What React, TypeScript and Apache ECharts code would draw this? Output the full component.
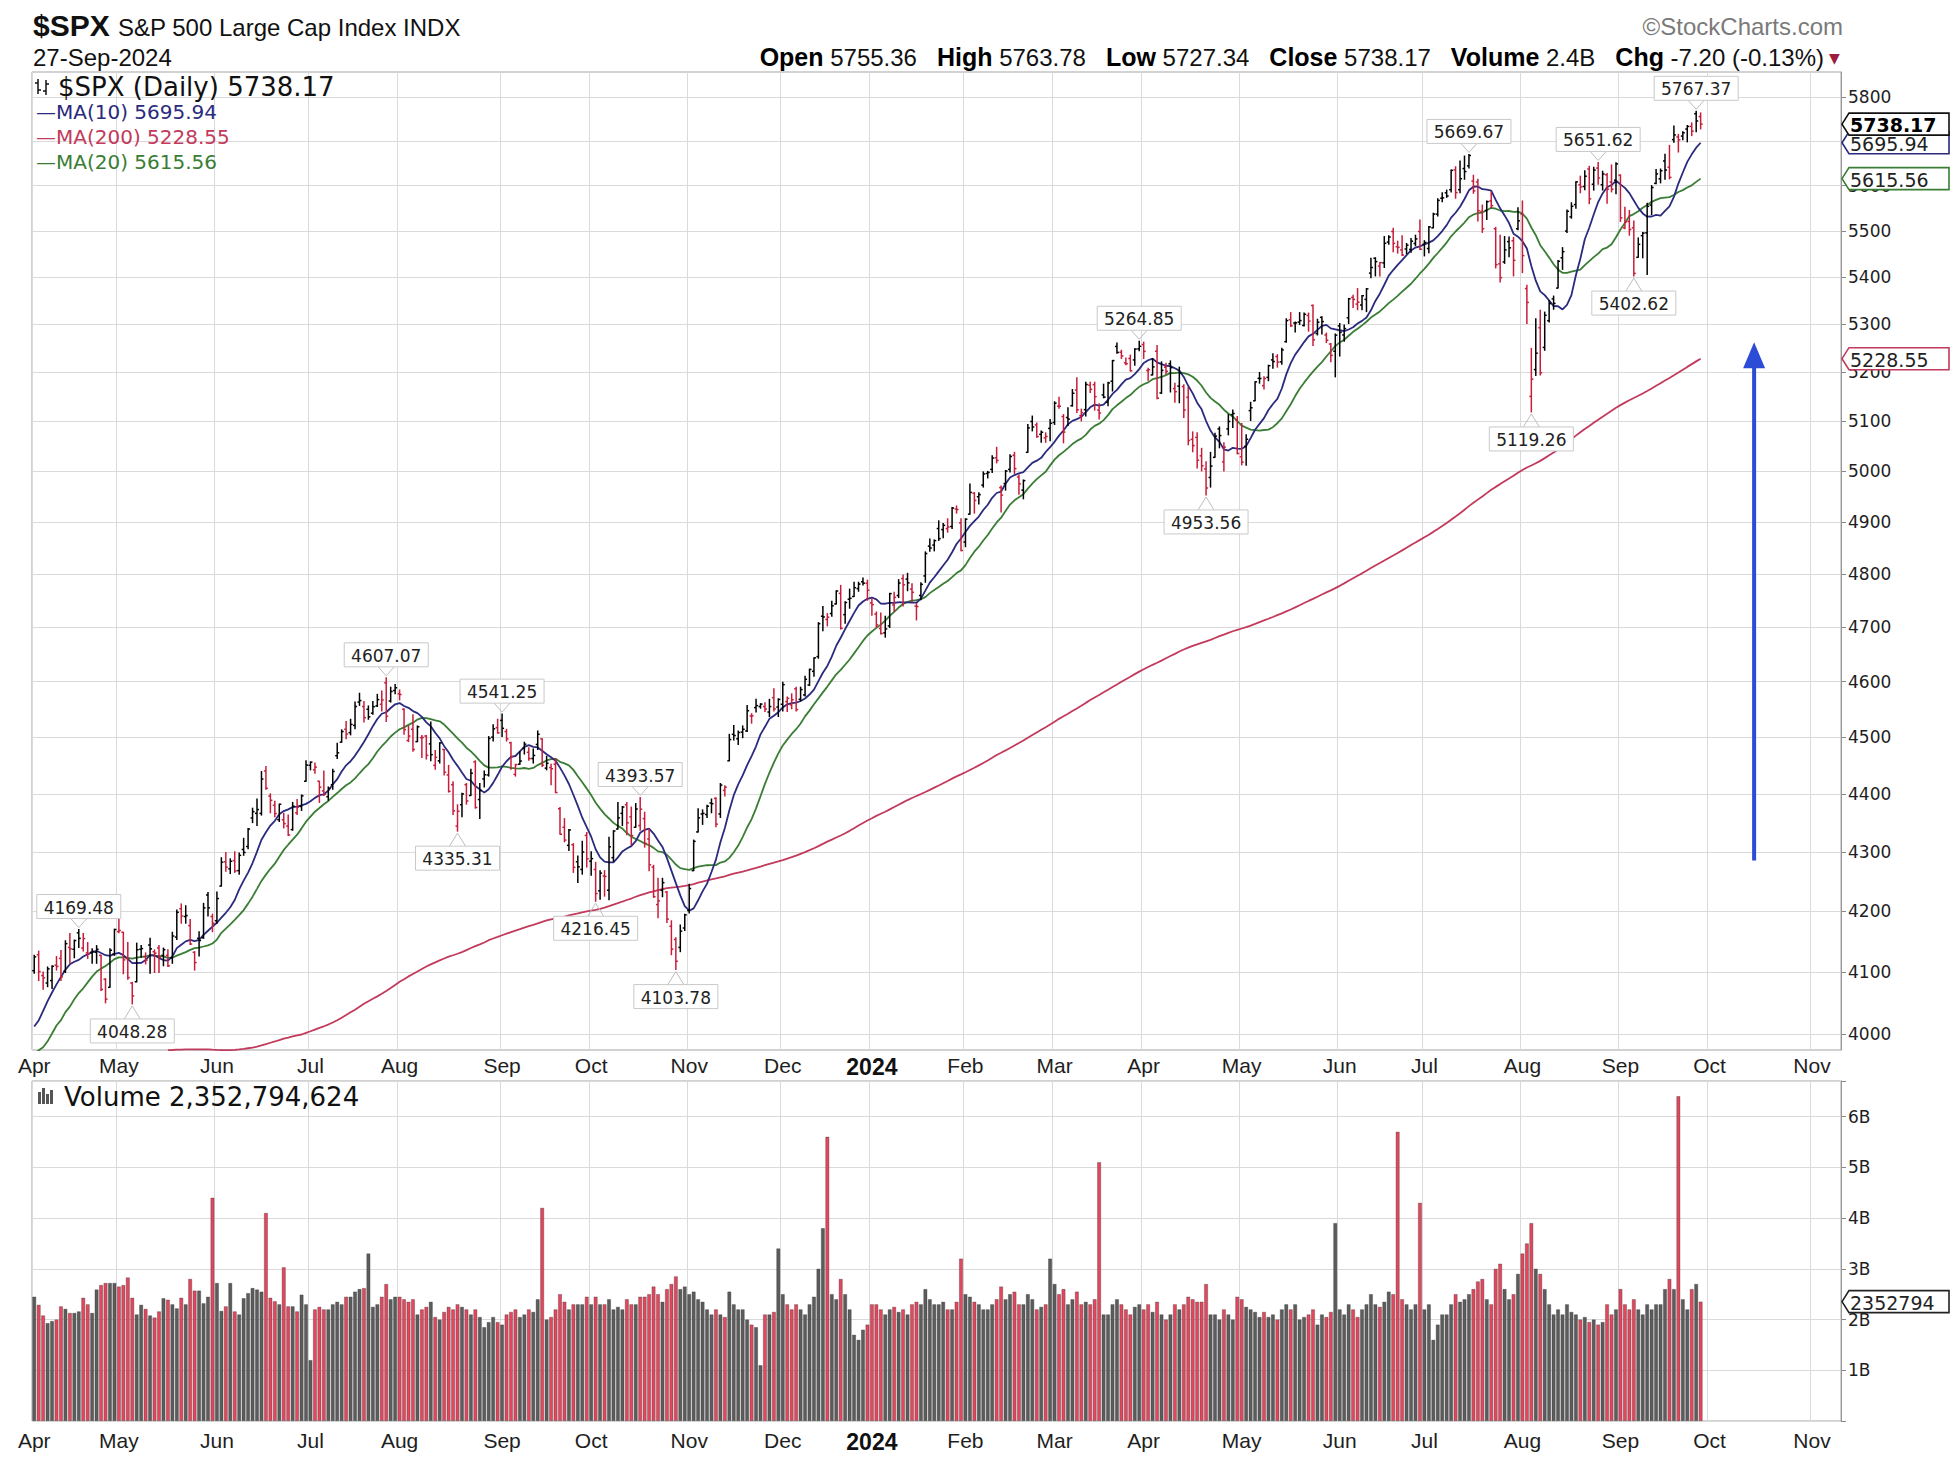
import React, { useEffect, useRef } from 'react';
import * as echarts from 'echarts';

// ---------- calendar / axis ----------
const axisStart = '2023-04-03';
const axisEnd = '2024-11-11';
const holidays = ['2023-04-07', '2023-05-29', '2023-06-19', '2023-07-04', '2023-09-04', '2023-11-23', '2023-12-25',
  '2024-01-01', '2024-01-15', '2024-02-19', '2024-03-29', '2024-05-27', '2024-06-19', '2024-07-04', '2024-09-02'];
const priceTicks = [4000, 4100, 4200, 4300, 4400, 4500, 4600, 4700, 4800, 4900, 5000, 5100, 5200, 5300, 5400, 5500, 5600, 5700, 5800];
const priceMin = 3975;
const priceMax = 5858;
const volumeMax = 6.7;
const monthNames = ['Jan', 'Feb', 'Mar', 'Apr', 'May', 'Jun', 'Jul', 'Aug', 'Sep', 'Oct', 'Nov', 'Dec'];

// ---------- closes before the window (Aug 2022 - Mar 2023), for the moving averages ----------
const priorClose = [
  4118.63, 4091.19, 4155.17, 4151.94, 4145.19, 4140.06, 4122.47, 4210.24, 4207.27, 4280.15, 4297.14, 4305.20, 4274.04, 4283.74, 4228.48, 4137.99, 4128.73, 4140.77, 4199.12, 4057.66, 4030.61, 3986.16, 3955.00,
  3966.85, 3924.26, 3908.19, 3979.87, 4006.18, 4067.36, 4110.41, 3932.69, 3946.01, 3901.35, 3873.33, 3899.89, 3855.93, 3789.93, 3757.99, 3693.23, 3655.04, 3647.29, 3719.04, 3640.47, 3585.62,
  3678.43, 3790.93, 3783.28, 3744.52, 3639.66, 3612.39, 3588.84, 3577.03, 3669.91, 3583.07, 3677.95, 3719.98, 3695.16, 3665.78, 3752.75, 3797.34, 3859.11, 3830.60, 3807.30, 3901.06, 3871.98,
  3856.10, 3759.69, 3719.89, 3770.55, 3806.80, 3828.11, 3748.57, 3956.37, 3992.93, 3957.25, 3991.73, 3958.79, 3946.56, 3965.34, 3949.94, 4003.58, 4027.26, 4026.12, 3963.94, 3957.63, 4080.11,
  4076.57, 4071.70, 3998.84, 3941.26, 3933.92, 3963.51, 3934.38, 3990.56, 4019.65, 3995.32, 3895.75, 3852.36, 3817.66, 3821.62, 3878.44, 3822.39, 3844.82, 3829.25, 3783.22, 3849.28, 3839.50,
  3824.14, 3852.97, 3808.10, 3895.08, 3892.09, 3919.25, 3969.61, 3983.17, 3999.09, 3990.97, 3928.86, 3898.85, 3972.61, 4019.81, 4016.95, 4016.22, 4060.43, 4070.56, 4017.77, 4076.60,
  4119.21, 4179.76, 4136.48, 4111.08, 4164.00, 4117.86, 4081.50, 4090.46, 4137.29, 4136.13, 4147.60, 4090.41, 4079.09, 3997.34, 3991.05, 4012.32, 3970.04, 3982.24, 3970.15,
  3951.39, 3981.35, 4045.64, 4048.42, 3986.37, 3992.01, 3918.32, 3861.59, 3855.76, 3919.29, 3891.93, 3960.28, 3916.64, 3951.57, 4002.87, 3936.97, 3948.72, 3970.99, 3977.53, 3971.27, 4027.81, 4050.83, 4109.31,
];

// ---------- daily data, 2023-04-03 .. 2024-09-27 (one line per month) ----------
const open = [
  4102, 4128, 4094, 4082, 4086, 4111, 4122, 4101, 4140, 4137, 4164, 4139, 4131, 4132, 4132, 4127, 4088, 4075, 4129,
  4166, 4165, 4122, 4082, 4084, 4137, 4125, 4144, 4133, 4139, 4127, 4127, 4123, 4157, 4204, 4191, 4176, 4132, 4155, 4156, 4227, 4191,
  4184, 4242, 4283, 4271, 4285, 4268, 4304, 4309, 4358, 4366, 4366, 4440, 4396, 4380, 4355, 4355, 4344, 4338, 4367, 4378, 4422,
  4450, 4442, 4422, 4405, 4395, 4416, 4467, 4491, 4514, 4508, 4521, 4563, 4555, 4550, 4543, 4556, 4559, 4598, 4565, 4584,
  4578, 4550, 4494, 4514, 4492, 4499, 4502, 4488, 4450, 4458, 4478, 4433, 4416, 4344, 4381, 4416, 4397, 4456, 4390, 4426, 4433, 4500, 4517,
  4530, 4510, 4490, 4434, 4452, 4480, 4473, 4462, 4487, 4497, 4445, 4446, 4452, 4374, 4342, 4311, 4312, 4283, 4270, 4328,
  4284, 4270, 4234, 4259, 4235, 4290, 4339, 4366, 4381, 4360, 4342, 4345, 4357, 4322, 4274, 4211, 4235, 4232, 4175, 4153, 4140, 4172,
  4201, 4268, 4334, 4365, 4364, 4384, 4392, 4365, 4406, 4458, 4505, 4497, 4509, 4511, 4538, 4553, 4555, 4555, 4545, 4571, 4554,
  4559, 4564, 4558, 4587, 4568, 4576, 4594, 4619, 4646, 4721, 4715, 4726, 4744, 4764, 4724, 4753, 4758, 4773, 4786, 4783,
  4746, 4725, 4698, 4690, 4703, 4742, 4760, 4792, 4791, 4772, 4740, 4760, 4797, 4854, 4856, 4888, 4886, 4888, 4892, 4926, 4899,
  4862, 4916, 4957, 4950, 4973, 4996, 5004, 5027, 4968, 4976, 5004, 5032, 4989, 4963, 5038, 5100, 5093, 5074, 5067, 5086,
  5098, 5131, 5110, 5108, 5132, 5164, 5112, 5124, 5174, 5175, 5123, 5154, 5139, 5182, 5254, 5242, 5220, 5229, 5226, 5249,
  5258, 5204, 5195, 5244, 5158, 5211, 5218, 5167, 5172, 5171, 5149, 5064, 5068, 5031, 5005, 4988, 5028, 5085, 5019, 5085, 5114, 5103,
  5029, 5050, 5122, 5142, 5188, 5173, 5190, 5226, 5233, 5222, 5264, 5310, 5303, 5305, 5298, 5319, 5340, 5281, 5315, 5278, 5259, 5244,
  5297, 5278, 5314, 5357, 5343, 5341, 5353, 5409, 5441, 5424, 5431, 5476, 5499, 5466, 5459, 5461, 5460, 5473, 5499,
  5471, 5462, 5507, 5537, 5572, 5584, 5591, 5635, 5591, 5638, 5644, 5610, 5608, 5543, 5545, 5566, 5505, 5429, 5433, 5477, 5479, 5505,
  5537, 5376, 5151, 5206, 5293, 5252, 5308, 5354, 5377, 5442, 5500, 5531, 5558, 5602, 5598, 5637, 5603, 5639, 5602, 5624, 5608, 5612,
  5623, 5507, 5521, 5507, 5443, 5490, 5496, 5557, 5605, 5615, 5655, 5641, 5703, 5709, 5711, 5727, 5733, 5762, 5755.36,
];
const high = [
  4127, 4134, 4100, 4108, 4110, 4125, 4135, 4151, 4163, 4152, 4169.48, 4163, 4148, 4138, 4143, 4127, 4089, 4138, 4170,
  4187, 4165, 4148, 4083, 4147, 4143, 4131, 4155, 4136, 4143, 4139, 4136, 4165, 4202, 4212, 4209, 4186, 4133, 4166, 4213, 4231, 4195,
  4232, 4290, 4299, 4288, 4300, 4298, 4323, 4340, 4375, 4391, 4439, 4448, 4400, 4387, 4382, 4366, 4363, 4385, 4390, 4398, 4458,
  4456, 4454, 4422, 4440, 4412, 4443, 4489, 4513, 4528, 4532, 4563, 4579, 4564, 4556, 4564, 4577, 4583, 4607.07, 4590, 4595,
  4585, 4551, 4520, 4540, 4520, 4503, 4503, 4527, 4476, 4490, 4478, 4450, 4421, 4381, 4401, 4418, 4443, 4458, 4418, 4440, 4501, 4522, 4532,
  4541.25, 4514, 4491, 4452, 4474, 4491, 4481, 4479, 4511, 4497, 4466, 4452, 4462, 4376, 4357, 4338, 4314, 4293, 4318, 4333,
  4300, 4282, 4268, 4268, 4325, 4336, 4385, 4378, 4385, 4377, 4383, 4393.57, 4368, 4339, 4277, 4255, 4255, 4233, 4184, 4156, 4177, 4195,
  4245, 4320, 4374, 4372, 4380, 4391, 4393, 4418, 4414, 4505, 4521, 4511, 4520, 4557, 4542, 4568, 4560, 4562, 4568, 4587, 4569,
  4599, 4572, 4578, 4590, 4590, 4610, 4623, 4644, 4709, 4739, 4726, 4749, 4769, 4779, 4748, 4772, 4785, 4785, 4793, 4789,
  4754, 4729, 4727, 4721, 4764, 4766, 4790, 4799, 4802, 4782, 4745, 4784, 4843, 4868, 4866, 4903, 4898, 4907, 4929, 4932, 4907,
  4907, 4975, 4958, 4958, 4999, 5000, 5031, 5048, 4971, 5002, 5033, 5038, 4993, 4983, 5094, 5111, 5097, 5081, 5077, 5104,
  5140, 5149, 5114, 5128, 5165, 5189, 5125, 5180, 5180, 5180, 5136, 5176, 5180, 5225, 5261, 5246, 5230, 5236, 5249, 5264.85,
  5263, 5209, 5229, 5256, 5222, 5219, 5224, 5178, 5211, 5175, 5169, 5079, 5077, 5046, 5019, 5038, 5076, 5089, 5057, 5114, 5123, 5110,
  5096, 5073, 5139, 5181, 5200, 5191, 5215, 5239, 5237, 5250, 5312, 5325, 5305, 5325, 5324, 5324, 5341, 5311, 5316, 5282, 5260, 5280,
  5302, 5299, 5355, 5362, 5376, 5361, 5376, 5441, 5442, 5432, 5488, 5490, 5506, 5478, 5490, 5473, 5484, 5491, 5524,
  5479, 5510, 5539, 5571, 5584, 5590, 5635, 5642, 5655, 5666, 5669.67, 5623, 5614, 5557, 5566, 5586, 5508, 5491, 5488, 5487, 5486, 5551,
  5566, 5383, 5250, 5312, 5330, 5326, 5350, 5360, 5436, 5464, 5546, 5562, 5608.5, 5621, 5633, 5643, 5641, 5651.62, 5632, 5627, 5646, 5651,
  5624, 5552, 5545, 5522, 5485, 5497, 5561, 5600, 5636, 5637, 5670, 5690, 5734, 5715, 5721, 5735, 5741, 5767.37, 5763.78,
];
const low = [
  4098, 4086, 4072, 4076, 4073, 4103, 4086, 4099, 4114, 4123, 4140, 4134, 4122, 4114, 4114, 4070, 4050, 4075, 4127,
  4164, 4097, 4088, 4048.28, 4084, 4124, 4113, 4098, 4099, 4099, 4110, 4109, 4114, 4153, 4180, 4180, 4145, 4103, 4126, 4155, 4192, 4166,
  4180, 4242, 4267, 4263, 4265, 4262, 4294, 4305, 4350, 4345, 4363, 4408, 4367, 4360, 4352, 4341, 4328, 4337, 4364, 4371, 4422,
  4442, 4436, 4385, 4397, 4389, 4408, 4462, 4491, 4497, 4504, 4515, 4557, 4527, 4532, 4541, 4555, 4547, 4528, 4563, 4578,
  4567, 4505, 4492, 4475, 4492, 4464, 4461, 4458, 4443, 4454, 4433, 4403, 4364, 4335.31, 4360, 4382, 4397, 4375, 4357, 4412, 4431, 4493, 4507,
  4501, 4493, 4443, 4431, 4452, 4470, 4459, 4454, 4478, 4448, 4442, 4416, 4402, 4330, 4317, 4302, 4265, 4248, 4262, 4274,
  4260, 4216.45, 4220, 4225, 4219, 4284, 4339, 4345, 4329, 4312, 4342, 4337, 4308, 4268, 4223, 4189, 4224, 4181, 4128, 4103.78, 4133, 4168,
  4197, 4268, 4334, 4347, 4359, 4367, 4343, 4359, 4396, 4458, 4495, 4487, 4499, 4510, 4525, 4545, 4552, 4546, 4537, 4547, 4537,
  4547, 4546, 4551, 4547, 4565, 4574, 4593, 4610, 4643, 4694, 4703, 4721, 4744, 4697, 4708, 4736, 4758, 4768, 4780, 4751,
  4723, 4700, 4688, 4682, 4700, 4730, 4756, 4740, 4769, 4748, 4714, 4752, 4785, 4844, 4845, 4865, 4870, 4881, 4888, 4918, 4845,
  4853, 4916, 4918, 4936, 4969, 4987, 4998, 5017, 4920, 4963, 4999, 4996, 4955, 4946, 5038, 5081, 5068, 5058, 5058, 5061,
  5094, 5127, 5057, 5092, 5131, 5118, 5101, 5111, 5159, 5123, 5105, 5148, 5132, 5162, 5240, 5229, 5216, 5203, 5215, 5245,
  5229, 5184, 5195, 5146, 5157, 5197, 5160, 5139, 5138, 5108, 5053, 5039, 5007, 5001, 4953.56, 4969, 5028, 5047, 5001, 5073, 5088, 5035,
  5013, 5012, 5102, 5142, 5178, 5166, 5183, 5209, 5211, 5217, 5263, 5296, 5284, 5300, 5297, 5286, 5256, 5278, 5280, 5262, 5222, 5191,
  5234, 5265, 5302, 5336, 5331, 5331, 5327, 5399, 5403, 5403, 5421, 5471, 5455, 5452, 5447, 5451, 5454, 5468, 5460,
  5446, 5453, 5507, 5533, 5564, 5574, 5586, 5572, 5584, 5614, 5639, 5583, 5522, 5497, 5525, 5551, 5420, 5390, 5430, 5444, 5403, 5503,
  5410, 5302, 5119.26, 5194, 5195, 5246, 5305, 5332, 5377, 5417, 5497, 5528, 5550, 5584, 5591, 5560, 5590, 5603, 5590, 5561, 5586, 5582,
  5521, 5505, 5491, 5402.62, 5443, 5442, 5406, 5536, 5604, 5606, 5614, 5615, 5697, 5675, 5703, 5698, 5712, 5721, 5727.34,
];
const close = [
  4124.51, 4100.60, 4090.38, 4105.02, 4109.11, 4108.94, 4091.95, 4146.22, 4137.64, 4151.32, 4154.87, 4154.52, 4129.79, 4133.52, 4137.04, 4071.63, 4055.99, 4135.35, 4169.48,
  4167.87, 4119.58, 4090.75, 4061.22, 4136.25, 4138.12, 4119.17, 4137.64, 4130.62, 4124.08, 4136.28, 4109.90, 4158.77, 4198.05, 4191.98, 4192.63, 4145.58, 4115.24, 4151.28, 4205.45, 4205.52, 4179.83,
  4221.02, 4282.37, 4273.79, 4283.85, 4267.52, 4293.93, 4298.86, 4338.93, 4369.01, 4372.59, 4425.84, 4409.59, 4388.71, 4365.69, 4381.89, 4348.33, 4328.82, 4378.41, 4376.86, 4396.44, 4450.38,
  4455.59, 4446.82, 4411.59, 4398.95, 4409.53, 4439.26, 4472.16, 4510.04, 4505.42, 4522.79, 4554.98, 4565.72, 4534.87, 4536.34, 4554.64, 4567.46, 4566.75, 4537.41, 4582.23, 4588.96,
  4576.73, 4513.39, 4501.89, 4478.03, 4518.44, 4499.38, 4467.71, 4468.83, 4464.05, 4489.72, 4437.86, 4404.33, 4370.36, 4369.71, 4399.77, 4387.55, 4436.01, 4376.31, 4405.71, 4433.31, 4497.63, 4514.87, 4507.66,
  4515.77, 4496.83, 4465.48, 4451.14, 4457.49, 4487.46, 4461.90, 4467.44, 4505.10, 4450.32, 4453.53, 4443.95, 4402.20, 4330.00, 4320.06, 4337.44, 4273.53, 4274.51, 4299.70, 4288.05,
  4288.39, 4229.45, 4263.75, 4258.19, 4308.50, 4335.66, 4358.24, 4376.95, 4349.61, 4327.78, 4373.63, 4373.20, 4314.60, 4278.00, 4224.16, 4217.04, 4247.68, 4186.77, 4137.23, 4117.37, 4166.82, 4193.80,
  4237.86, 4317.78, 4358.34, 4365.98, 4378.38, 4382.78, 4347.35, 4415.24, 4411.55, 4495.70, 4502.88, 4508.24, 4514.02, 4547.38, 4538.19, 4556.62, 4559.34, 4550.43, 4554.89, 4550.58, 4567.80,
  4594.63, 4569.78, 4567.18, 4549.34, 4585.59, 4604.37, 4622.44, 4643.70, 4707.09, 4719.55, 4719.19, 4740.56, 4768.37, 4698.35, 4746.75, 4754.63, 4774.75, 4781.58, 4783.35, 4769.83,
  4742.83, 4704.81, 4688.68, 4697.24, 4763.54, 4756.50, 4783.45, 4780.24, 4783.83, 4765.98, 4739.21, 4780.94, 4839.81, 4850.43, 4864.60, 4868.55, 4894.16, 4890.97, 4927.93, 4924.97, 4845.65,
  4906.19, 4958.61, 4942.81, 4954.23, 4995.06, 4997.91, 5026.61, 5021.84, 4953.17, 5000.62, 5029.73, 5005.57, 4975.51, 4981.80, 5087.03, 5088.80, 5069.53, 5078.18, 5069.76, 5096.27,
  5137.08, 5130.95, 5078.65, 5104.76, 5157.36, 5123.69, 5117.94, 5175.27, 5165.31, 5150.48, 5117.09, 5149.42, 5178.51, 5224.62, 5241.53, 5234.18, 5218.19, 5203.58, 5248.49, 5254.35,
  5243.77, 5205.81, 5211.49, 5147.21, 5204.34, 5202.39, 5209.91, 5160.64, 5199.06, 5123.41, 5061.82, 5051.41, 5022.21, 5011.12, 4967.23, 5010.60, 5070.55, 5071.63, 5048.42, 5099.96, 5116.17, 5035.69,
  5018.39, 5064.20, 5127.79, 5180.74, 5187.70, 5187.67, 5214.08, 5222.68, 5221.42, 5246.68, 5308.15, 5297.10, 5303.27, 5308.13, 5321.41, 5307.01, 5267.84, 5304.72, 5306.04, 5266.95, 5235.48, 5277.51,
  5283.40, 5291.34, 5354.03, 5352.96, 5346.99, 5360.79, 5375.32, 5421.03, 5433.74, 5431.60, 5473.23, 5487.03, 5473.17, 5464.62, 5447.87, 5469.30, 5477.90, 5482.87, 5460.48,
  5475.09, 5509.01, 5537.02, 5567.19, 5572.85, 5576.98, 5633.91, 5584.54, 5615.35, 5631.22, 5667.20, 5588.27, 5544.59, 5505.00, 5564.41, 5555.74, 5427.13, 5399.22, 5459.10, 5463.54, 5436.44, 5522.30,
  5446.68, 5346.56, 5186.33, 5240.03, 5199.50, 5319.31, 5344.16, 5344.39, 5434.43, 5455.21, 5543.22, 5554.25, 5608.25, 5597.12, 5620.85, 5570.64, 5634.61, 5616.84, 5625.80, 5592.18, 5591.96, 5648.40,
  5528.93, 5520.07, 5503.41, 5408.42, 5471.05, 5495.52, 5554.13, 5595.76, 5626.02, 5633.09, 5634.58, 5618.26, 5713.64, 5702.55, 5718.57, 5732.93, 5722.26, 5745.37, 5738.17,
];
// volume in billions of shares
const volume = [
  2.45, 2.29, 2.08, 1.93, 1.97, 2.0, 2.26, 2.21, 2.13, 2.13, 2.16, 2.43, 2.30, 2.13, 2.59, 2.68, 2.72, 2.72, 2.72,
  2.65, 2.68, 2.83, 2.43, 2.1, 2.29, 2.21, 2.08, 2.04, 2.16, 2.42, 2.39, 2.3, 2.22, 2.43, 2.3, 2.8, 2.57, 2.57, 2.32, 2.45, 4.4,
  2.72, 2.17, 2.26, 2.72, 2.16, 2.1, 2.42, 2.52, 2.62, 2.59, 2.55, 4.1, 2.43, 2.36, 2.3, 3.03, 2.26, 2.26, 2.16, 2.49, 2.3,
  1.2, 2.2, 2.25, 2.2, 2.2, 2.3, 2.35, 2.3, 2.45, 2.45, 2.55, 2.6, 2.62, 3.3, 2.25, 2.3, 2.45, 2.7, 2.4, 2.45,
  2.45, 2.4, 2.35, 2.4, 2.1, 2.2, 2.25, 2.35, 2.05, 2.0, 2.15, 2.25, 2.2, 2.3, 2.25, 2.2, 2.1, 2.2, 2.05, 1.85, 1.95, 2.05, 1.95,
  1.9, 2.1, 2.15, 2.2, 2.05, 2.1, 2.2, 2.15, 2.4, 4.2, 2.0, 2.05, 2.2, 2.5, 2.35, 2.2, 2.3, 2.3, 2.3, 2.45,
  2.3, 2.45, 2.3, 2.3, 2.4, 2.2, 2.25, 2.2, 2.4, 2.3, 2.3, 2.45, 2.45, 2.5, 2.65, 2.5, 2.35, 2.6, 2.7, 2.85, 2.6, 2.65,
  2.5, 2.55, 2.4, 2.35, 2.2, 2.1, 2.2, 2.1, 2.05, 2.55, 2.3, 2.2, 2.2, 2.0, 1.9, 1.85, 1.1, 2.1, 2.1, 2.15, 3.4,
  2.5, 2.3, 2.2, 2.3, 2.2, 2.1, 2.3, 2.45, 3.0, 3.8, 5.6, 2.5, 2.4, 2.8, 2.5, 2.2, 1.7, 1.6, 1.8, 1.9,
  2.3, 2.3, 2.2, 2.1, 2.2, 2.25, 2.15, 2.2, 2.1, 2.3, 2.35, 2.3, 2.6, 2.4, 2.3, 2.3, 2.35, 2.2, 2.2, 2.35, 3.2,
  2.5, 2.45, 2.35, 2.3, 2.2, 2.2, 2.3, 2.4, 2.65, 2.4, 2.5, 2.55, 2.3, 2.3, 2.5, 2.4, 2.2, 2.25, 2.3, 3.2,
  2.7, 2.5, 2.6, 2.3, 2.4, 2.55, 2.3, 2.35, 2.3, 2.4, 5.1, 2.1, 2.1, 2.3, 2.4, 2.3, 2.2, 2.1, 2.25, 2.3,
  2.2, 2.3, 2.15, 2.35, 2.1, 2.0, 2.1, 2.3, 2.2, 2.3, 2.45, 2.4, 2.35, 2.35, 2.7, 2.1, 2.1, 2.0, 2.2, 2.1, 2.0, 2.45,
  2.4, 2.25, 2.2, 2.15, 2.05, 2.15, 2.05, 2.1, 2.0, 2.2, 2.3, 2.2, 2.3, 2.0, 2.05, 2.1, 2.2, 1.9, 2.1, 2.05, 2.15, 3.9,
  2.2, 2.1, 2.3, 2.2, 2.05, 2.2, 2.3, 2.5, 2.3, 2.25, 2.35, 2.55, 2.5, 5.7, 2.4, 2.3, 2.2, 2.3, 4.3,
  2.2, 2.3, 1.6, 1.9, 2.1, 2.1, 2.3, 2.5, 2.35, 2.4, 2.5, 2.6, 2.75, 2.8, 2.4, 2.3, 3.0, 3.1, 2.6, 2.4, 2.5, 2.9,
  3.3, 3.5, 3.9, 3.0, 2.9, 2.6, 2.3, 2.1, 2.2, 2.1, 2.3, 2.15, 2.1, 2.0, 2.05, 1.95, 2.0, 1.9, 1.95, 2.3, 2.1, 2.2,
  2.6, 2.3, 2.2, 2.4, 2.2, 2.1, 2.3, 2.2, 2.3, 2.3, 2.6, 2.8, 2.6, 6.4, 2.4, 2.2, 2.6, 2.7, 2.352794624,
];

// ---------- price annotations ----------
const annoDates = ['2023-04-18', '2023-05-04', '2023-07-27', '2023-08-18', '2023-09-01', '2023-10-03', '2023-10-17', '2023-10-27',
  '2024-03-28', '2024-04-19', '2024-07-16', '2024-08-05', '2024-08-26', '2024-09-06', '2024-09-26'];
const annoValues = [4169.48, 4048.28, 4607.07, 4335.31, 4541.25, 4216.45, 4393.57, 4103.78,
  5264.85, 4953.56, 5669.67, 5119.26, 5651.62, 5402.62, 5767.37];
const annoSides = ['high', 'low', 'high', 'low', 'high', 'low', 'high', 'low', 'high', 'low', 'high', 'low', 'high', 'low', 'high'];
const arrowDate = '2024-10-15';
const arrowFrom = 4285;
const arrowTo = 5263;

// ---------- styling ----------
const SANS = '"Liberation Sans", Arial, sans-serif';
const VERD = '"DejaVu Sans", Verdana, sans-serif';
const RED = '#c81d3a';
const NAVY = '#2a2a7e';
const GREEN = '#3a7d34';
const CRIMSON = '#c23a5c';
const GRIDC = '#dadada';

function buildDays(): string[] {
  const out: string[] = [];
  const [y0, m0, d0] = axisStart.split('-').map(Number);
  const [y1, m1, d1] = axisEnd.split('-').map(Number);
  const d = new Date(Date.UTC(y0, m0 - 1, d0));
  const end = Date.UTC(y1, m1 - 1, d1);
  while (d.getTime() <= end) {
    const dow = d.getUTCDay();
    const s = d.toISOString().slice(0, 10);
    if (dow !== 0 && dow !== 6 && holidays.indexOf(s) < 0) out.push(s);
    d.setUTCDate(d.getUTCDate() + 1);
  }
  return out;
}

function buildOption() {
  const L = (v: number) => Math.log(v);
  const days = buildDays();
  const n = close.length;
  const last = n - 1;
  const P = priorClose.length;
  const all = priorClose.concat(close);
  const sma = (len: number) => close.map((_, i) => {
    const end = P + i;
    const start = end - len + 1;
    if (start < 0) return null;
    let s = 0;
    for (let k = start; k <= end; k++) s += all[k];
    return s / len;
  });
  const ma10 = sma(10);
  const ma20 = sma(20);
  const ma200 = sma(200);
  const isUp = close.map((c, i) => c >= all[P + i - 1]);

  const ohlcData = close.map((c, i) => [i, L(open[i]), L(high[i]), L(low[i]), L(c), isUp[i] ? 1 : 0]);
  const volData = volume.map((v, i) => ({
    value: v,
    itemStyle: { color: isUp[i] ? '#5c5c5c' : '#e2475d' },
  }));
  const maLine = (arr: (number | null)[]) => arr.map((v) => (v == null ? '-' : L(v)));

  const isMonthStart = (idx: number, value: string) => idx === 0 || days[idx - 1].slice(0, 7) !== value.slice(0, 7);
  const monthLabel = (value: string) => {
    const m = Number(value.slice(5, 7));
    return m === 1 ? `{y|${value.slice(0, 4)}}` : monthNames[m - 1];
  };

  const fmt2 = (v: number) => v.toFixed(2);
  const lastDate = days[last];
  const dateText = `${lastDate.slice(8, 10)}-${monthNames[Number(lastDate.slice(5, 7)) - 1]}-${lastDate.slice(0, 4)}`;
  const chg = close[last] - close[last - 1];
  const pct = (chg / close[last - 1]) * 100;
  const gap = '   ';
  const infoText = `{b|Open} ${fmt2(open[last])}${gap}{b|High} ${fmt2(high[last])}${gap}{b|Low} ${fmt2(low[last])}${gap}{b|Close} ${fmt2(close[last])}${gap}{b|Volume} ${volume[last].toFixed(1)}B${gap}{b|Chg} ${chg.toFixed(2)} (${pct.toFixed(2)}%)`;
  const volRaw = Math.round(volume[last] * 1e9);

  const xAxisBase = (gridIndex: number) => ({
    type: 'category',
    gridIndex,
    data: days,
    boundaryGap: true,
    axisLine: { show: false },
    axisTick: { show: false },
    axisLabel: {
      interval: isMonthStart,
      formatter: monthLabel,
      margin: gridIndex === 0 ? 5 : 9,
      fontSize: 21,
      fontFamily: SANS,
      color: '#1e1e1e',
      rich: { y: { fontSize: 23, fontWeight: 'bold', fontFamily: SANS, color: '#111' } },
    },
    splitLine: { show: true, interval: isMonthStart, lineStyle: { color: GRIDC, width: 1 } },
  });

  const tagDefs = [
    { v: ma200[last] as number, color: CRIMSON, text: fmt2(ma200[last] as number), bold: false },
    { v: ma20[last] as number, color: GREEN, text: fmt2(ma20[last] as number), bold: false },
    { v: ma10[last] as number, color: NAVY, text: fmt2(ma10[last] as number), bold: false },
    { v: close[last], color: '#111', text: fmt2(close[last]), bold: true },
  ];

  const tagRender = (defs: { color: string; text: string; bold: boolean }[]) => (params: any, api: any) => {
    const cs = params.coordSys;
    const y = api.coord([api.value(0), api.value(1)])[1];
    const x0 = cs.x + cs.width;
    const t = defs[params.dataIndex];
    const w = 108;
    const h = 22;
    return {
      type: 'group',
      children: [
        {
          type: 'polygon',
          shape: { points: [[x0 + 1, y], [x0 + 8, y - h / 2], [x0 + w, y - h / 2], [x0 + w, y + h / 2], [x0 + 8, y + h / 2]] },
          style: { fill: '#fff', stroke: t.color, lineWidth: 1.6 },
        },
        {
          type: 'text',
          x: x0 + 9,
          y: y + 1,
          style: {
            text: t.text,
            fill: t.bold ? '#000' : '#222',
            font: `${t.bold ? 'bold ' : ''}19px ${VERD}`,
            verticalAlign: 'middle',
          },
        },
      ],
    };
  };

  const annoData = annoDates.map((d, i) => [days.indexOf(d), L(annoValues[i]), annoSides[i] === 'high' ? 1 : 0, annoValues[i]]);

  return {
    animation: false,
    backgroundColor: '#fff',
    grid: [
      { left: 32, right: 112, top: 72, height: 978, show: true, borderColor: '#a5a5a5', borderWidth: 1, backgroundColor: '#fff' },
      { left: 32, right: 112, top: 1081, height: 340, show: true, borderColor: '#a5a5a5', borderWidth: 1, backgroundColor: '#fff' },
    ],
    xAxis: [xAxisBase(0), xAxisBase(1)],
    yAxis: [
      {
        type: 'value',
        gridIndex: 0,
        position: 'right',
        min: L(priceMin),
        max: L(priceMax),
        axisLine: { show: true, lineStyle: { color: '#999' } },
        axisTick: { show: true, customValues: priceTicks.map(L), length: 5, lineStyle: { color: '#888' } },
        axisLabel: {
          customValues: priceTicks.map(L),
          formatter: (v: number) => String(Math.round(Math.exp(v))),
          fontSize: 17,
          fontFamily: VERD,
          color: '#1e1e1e',
          margin: 7,
        },
        splitLine: { show: true, lineStyle: { color: GRIDC, width: 1 } },
      },
      {
        type: 'value',
        gridIndex: 1,
        position: 'right',
        min: 0,
        max: volumeMax,
        interval: 1,
        axisLine: { show: true, lineStyle: { color: '#999' } },
        axisTick: { show: true, length: 5, lineStyle: { color: '#888' } },
        axisLabel: {
          formatter: (v: number) => (v > 0 && Math.abs(v - Math.round(v)) < 1e-9 ? `${Math.round(v)}B` : ''),
          fontSize: 17,
          fontFamily: VERD,
          color: '#1e1e1e',
          margin: 7,
        },
        splitLine: { show: true, lineStyle: { color: GRIDC, width: 1 } },
      },
    ],
    series: [
      {
        type: 'line', name: 'MA200', xAxisIndex: 0, yAxisIndex: 0, data: maLine(ma200),
        showSymbol: false, lineStyle: { color: CRIMSON, width: 1.8 }, z: 3,
      },
      {
        type: 'line', name: 'MA20', xAxisIndex: 0, yAxisIndex: 0, data: maLine(ma20),
        showSymbol: false, lineStyle: { color: GREEN, width: 1.8 }, z: 3,
      },
      {
        type: 'line', name: 'MA10', xAxisIndex: 0, yAxisIndex: 0, data: maLine(ma10),
        showSymbol: false, lineStyle: { color: NAVY, width: 1.8 }, z: 3,
      },
      {
        type: 'custom',
        name: '$SPX',
        xAxisIndex: 0,
        yAxisIndex: 0,
        z: 4,
        data: ohlcData,
        encode: { x: 0, y: [1, 2, 3, 4] },
        renderItem: (params: any, api: any) => {
          const x = api.value(0);
          const o = api.value(1), h = api.value(2), l = api.value(3), c = api.value(4);
          const hp = api.coord([x, Math.max(h, o, c)]);
          const lp = api.coord([x, Math.min(l, o, c)]);
          const op = api.coord([x, o]);
          const cp = api.coord([x, c]);
          const w = api.size([1, 0])[0] * 0.45;
          const color = api.value(5) === 1 ? '#000' : RED;
          const st = { stroke: color, lineWidth: 1.5 };
          return {
            type: 'group',
            children: [
              { type: 'line', shape: { x1: hp[0], y1: hp[1] - 0.5, x2: lp[0], y2: lp[1] + 0.5 }, style: st },
              { type: 'line', shape: { x1: op[0] - w, y1: op[1], x2: op[0], y2: op[1] }, style: st },
              { type: 'line', shape: { x1: cp[0], y1: cp[1], x2: cp[0] + w, y2: cp[1] }, style: st },
            ],
          };
        },
      },
      {
        type: 'custom',
        name: 'annotations',
        xAxisIndex: 0,
        yAxisIndex: 0,
        z: 6,
        clip: false,
        data: annoData,
        encode: { x: 0, y: 1 },
        renderItem: (params: any, api: any) => {
          const p = api.coord([api.value(0), api.value(1)]);
          const isHigh = api.value(2) === 1;
          const txt = Number(api.value(3)).toFixed(2);
          const w = 84;
          const h = 24;
          const tail = isHigh ? 11 : 15;
          const boxY = isHigh ? p[1] - tail - h : p[1] + tail;
          const edgeY = isHigh ? boxY + h : boxY;
          const tipY = isHigh ? p[1] - 2 : p[1] + 2;
          return {
            type: 'group',
            children: [
              {
                type: 'polyline',
                shape: { points: [[p[0] - 8, edgeY], [p[0], tipY], [p[0] + 8, edgeY]] },
                style: { stroke: '#bdbdbd', fill: 'none', lineWidth: 1 },
              },
              {
                type: 'rect',
                shape: { x: p[0] - w / 2, y: boxY, width: w, height: h },
                style: { fill: '#fff', stroke: '#c9c9c9', lineWidth: 1 },
              },
              {
                type: 'text',
                x: p[0],
                y: boxY + h / 2 + 1,
                style: { text: txt, align: 'center', verticalAlign: 'middle', font: `17px ${VERD}`, fill: '#222' },
              },
            ],
          };
        },
      },
      {
        type: 'custom',
        name: 'arrow',
        xAxisIndex: 0,
        yAxisIndex: 0,
        z: 5,
        clip: false,
        data: [[days.indexOf(arrowDate), L(arrowFrom), L(arrowTo)]],
        encode: { x: 0, y: [1, 2] },
        renderItem: (params: any, api: any) => {
          const b = api.coord([api.value(0), api.value(1)]);
          const t = api.coord([api.value(0), api.value(2)]);
          const col = '#2c4bd6';
          return {
            type: 'group',
            children: [
              { type: 'line', shape: { x1: b[0], y1: b[1], x2: t[0], y2: t[1] + 20 }, style: { stroke: col, lineWidth: 4 } },
              { type: 'polygon', shape: { points: [[t[0], t[1]], [t[0] - 11, t[1] + 26], [t[0] + 11, t[1] + 26]] }, style: { fill: col } },
            ],
          };
        },
      },
      {
        type: 'custom',
        name: 'tags',
        xAxisIndex: 0,
        yAxisIndex: 0,
        z: 8,
        clip: false,
        data: tagDefs.map((t) => [last, L(t.v)]),
        encode: { x: 0, y: 1 },
        renderItem: tagRender(tagDefs),
      },
      {
        type: 'bar',
        name: 'Volume',
        xAxisIndex: 1,
        yAxisIndex: 1,
        data: volData,
        barCategoryGap: '14%',
        itemStyle: { borderColor: 'rgba(45,45,45,0.55)', borderWidth: 0.6 },
        z: 3,
      },
      {
        type: 'custom',
        name: 'volTag',
        xAxisIndex: 1,
        yAxisIndex: 1,
        z: 8,
        clip: false,
        data: [[last, volume[last]]],
        encode: { x: 0, y: 1 },
        renderItem: tagRender([{ color: '#222', text: String(volRaw).slice(0, 7), bold: false }]),
      },
    ],
    graphic: [
      { type: 'text', z: 50, x: 33, y: 25, style: { text: '$SPX', font: `bold 30px ${SANS}`, fill: '#111', verticalAlign: 'middle' } },
      { type: 'text', z: 50, x: 118, y: 27, style: { text: 'S&P 500 Large Cap Index INDX', font: `24px ${SANS}`, fill: '#111', verticalAlign: 'middle' } },
      { type: 'text', z: 50, x: 33, y: 57, style: { text: dateText, font: `24px ${SANS}`, fill: '#111', verticalAlign: 'middle' } },
      { type: 'text', z: 50, x: 1843, y: 26, style: { text: '©StockCharts.com', font: `24px ${SANS}`, fill: '#7a7a7a', align: 'right', verticalAlign: 'middle' } },
      {
        type: 'text', z: 50, x: 1824, y: 57,
        style: {
          text: infoText,
          font: `24px ${SANS}`,
          fill: '#111',
          align: 'right',
          verticalAlign: 'middle',
          rich: { b: { font: `bold 25px ${SANS}`, fill: '#000' } },
        },
      },
      { type: 'text', z: 50, x: 1829, y: 58, style: { text: '▼', font: `14px ${VERD}`, fill: '#9b1c3c', verticalAlign: 'middle' } },
      // price legend
      { type: 'line', z: 50, shape: { x1: 38, y1: 79, x2: 38, y2: 94 }, style: { stroke: '#111', lineWidth: 1.5 } },
      { type: 'line', z: 50, shape: { x1: 35, y1: 83, x2: 38, y2: 83 }, style: { stroke: '#111', lineWidth: 1.5 } },
      { type: 'line', z: 50, shape: { x1: 38, y1: 90, x2: 41, y2: 90 }, style: { stroke: '#111', lineWidth: 1.5 } },
      { type: 'line', z: 50, shape: { x1: 46, y1: 80, x2: 46, y2: 95 }, style: { stroke: '#111', lineWidth: 1.5 } },
      { type: 'line', z: 50, shape: { x1: 43, y1: 91, x2: 46, y2: 91 }, style: { stroke: '#111', lineWidth: 1.5 } },
      { type: 'line', z: 50, shape: { x1: 46, y1: 84, x2: 49, y2: 84 }, style: { stroke: '#111', lineWidth: 1.5 } },
      { type: 'text', z: 50, x: 58, y: 87, style: { text: `$SPX (Daily) ${fmt2(close[last])}`, font: `26px ${VERD}`, fill: '#111', verticalAlign: 'middle' } },
      { type: 'text', z: 50, x: 36, y: 112, style: { text: `—MA(10) ${fmt2(ma10[last] as number)}`, font: `20px ${VERD}`, fill: NAVY, verticalAlign: 'middle' } },
      { type: 'text', z: 50, x: 36, y: 137, style: { text: `—MA(200) ${fmt2(ma200[last] as number)}`, font: `20px ${VERD}`, fill: CRIMSON, verticalAlign: 'middle' } },
      { type: 'text', z: 50, x: 36, y: 162, style: { text: `—MA(20) ${fmt2(ma20[last] as number)}`, font: `20px ${VERD}`, fill: GREEN, verticalAlign: 'middle' } },
      // volume legend
      { type: 'rect', z: 50, shape: { x: 38, y: 1092, width: 3, height: 12 }, style: { fill: '#555' } },
      { type: 'rect', z: 50, shape: { x: 42, y: 1088, width: 3, height: 16 }, style: { fill: '#555' } },
      { type: 'rect', z: 50, shape: { x: 46, y: 1094, width: 3, height: 10 }, style: { fill: '#555' } },
      { type: 'rect', z: 50, shape: { x: 50, y: 1090, width: 3, height: 14 }, style: { fill: '#555' } },
      { type: 'text', z: 50, x: 64, y: 1097, style: { text: `Volume ${volRaw.toLocaleString('en-US')}`, font: `26px ${VERD}`, fill: '#111', verticalAlign: 'middle' } },
    ],
  };
}

export default function App() {
  const ref = useRef<HTMLDivElement>(null);
  useEffect(() => {
    if (!ref.current) return;
    const chart = echarts.init(ref.current, null, { renderer: 'svg' });
    chart.setOption(buildOption() as any);
    return () => chart.dispose();
  }, []);
  return (
    <div
      ref={ref}
      style={{ position: 'fixed', left: 0, top: 0, width: 1953, height: 1473, background: '#fff' }}
    />
  );
}
